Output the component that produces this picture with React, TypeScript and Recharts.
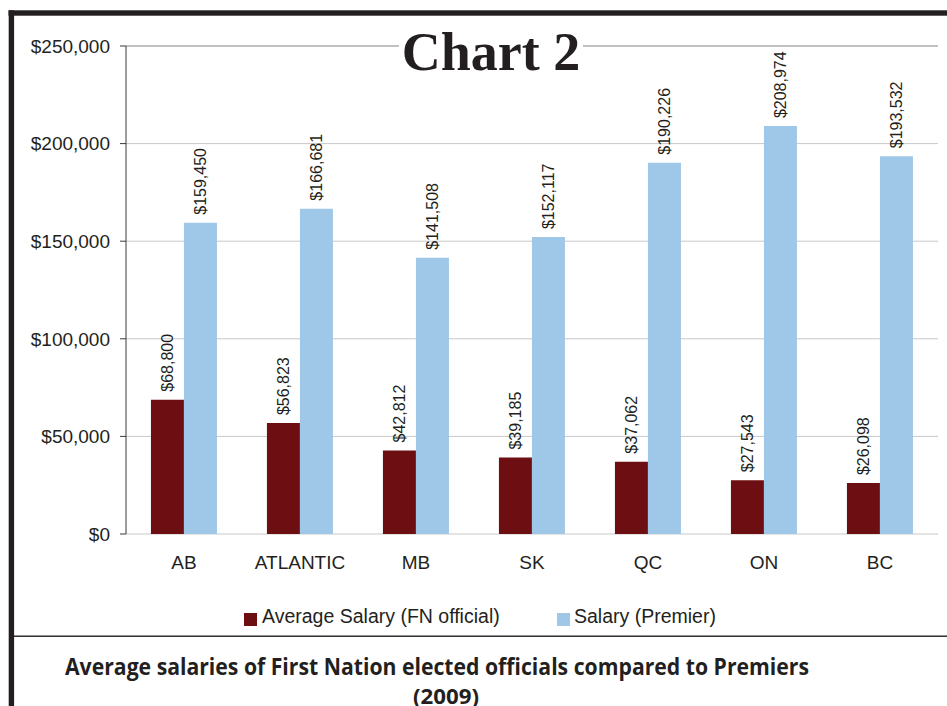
import React from "react";
import { BarChart, Bar, XAxis, YAxis, CartesianGrid, Legend, ReferenceLine } from "recharts";

const regions = ["AB", "ATLANTIC", "MB", "SK", "QC", "ON", "BC"];
const fnSalary = [68800, 56823, 42812, 39185, 37062, 27543, 26098];
const premierSalary = [159450, 166681, 141508, 152117, 190226, 208974, 193532];
const yTicks = [0, 50000, 100000, 150000, 200000, 250000];
const boundaryTicks = [0, 1, 2, 3, 4, 5, 6, 7];
const seriesNames = ["Average Salary (FN official)", "Salary (Premier)"];
const chartTitle = "Chart 2";
const captionLine1 = "Average salaries of First Nation elected officials compared to Premiers";
const captionLine2 = "(2009)";

const data = regions.map((r, i) => ({ region: r, fn: fnSalary[i], premier: premierSalary[i] }));

const RED = "#6d0f12";
const BLUE = "#9fc7e8";
const INK = "#231f20";
const SANS = "'Liberation Sans', Arial, sans-serif";

const money = (v: number) => "$" + Number(v).toLocaleString("en-US");

const renderLabel = (props: any) => {
  const { x, y, width, value } = props;
  const cx = x + width / 2 + 5.7;
  const cy = y - 8;
  return (
    <text
      x={cx}
      y={cy}
      transform={`rotate(-90 ${cx} ${cy})`}
      fontSize={16}
      fill={INK}
      fontFamily={SANS}
      textAnchor="start"
    >
      {money(value)}
    </text>
  );
};

const renderLegend = () => (
  <div style={{ position: "relative", width: 947, height: 24, fontFamily: SANS, fontSize: 19.5, color: INK }}>
    <div style={{ position: "absolute", left: 244, top: 4, width: 13, height: 13, background: RED }} />
    <div style={{ position: "absolute", left: 262, top: -4, whiteSpace: "nowrap" }}>{seriesNames[0]}</div>
    <div style={{ position: "absolute", left: 556.5, top: 4, width: 13, height: 13, background: BLUE }} />
    <div style={{ position: "absolute", left: 574, top: -4, whiteSpace: "nowrap" }}>{seriesNames[1]}</div>
  </div>
);

export default function App() {
  return (
    <div style={{ position: "absolute", left: 0, top: 0, width: 947, height: 706, background: "#fff", overflow: "hidden" }}>
      <BarChart
        width={947}
        height={706}
        data={data}
        margin={{ top: 46, right: 9, left: 0, bottom: 142 }}
        barGap={0}
        barCategoryGap="21.5%"
      >
        <XAxis
          xAxisId="bounds"
          type="number"
          domain={[0, 7]}
          ticks={boundaryTicks}
          allowDataOverflow
          height={0}
          tickSize={6}
          tickFormatter={() => ""}
          axisLine={{ stroke: INK, strokeWidth: 1.3 }}
          tickLine={{ stroke: INK }}
        />
        <XAxis
          dataKey="region"
          height={30}
          tickLine={false}
          axisLine={false}
          tickSize={6}
          tickMargin={16}
          tick={{ fontSize: 19, fill: INK, fontFamily: SANS }}
          interval={0}
        />
        <YAxis
          width={126}
          domain={[0, 250000]}
          ticks={yTicks}
          tickFormatter={money}
          tickSize={6}
          tickMargin={10}
          tick={{ fontSize: 19, fill: INK, fontFamily: SANS }}
          axisLine={{ stroke: "#3a3a3a" }}
          tickLine={{ stroke: "#3a3a3a" }}
        />
        <YAxis
          yAxisId="right"
          orientation="right"
          width={0}
          domain={[0, 250000]}
          tick={false}
          tickLine={false}
          axisLine={{ stroke: "#a0a0a0" }}
        />
        <CartesianGrid vertical={false} stroke="#c8c8c8" />
        <ReferenceLine y={250000} stroke="#a0a0a0" />
        <Bar dataKey="fn" name={seriesNames[0]} fill={RED} isAnimationActive={false} label={renderLabel} />
        <Bar dataKey="premier" name={seriesNames[1]} fill={BLUE} isAnimationActive={false} label={renderLabel} />
        <Legend
          layout="horizontal"
          verticalAlign="middle"
          align="center"
          content={renderLegend}
          wrapperStyle={{ position: "absolute", top: 609, left: 0, width: 947 }}
        />
      </BarChart>
      <svg
        width={947}
        height={706}
        style={{ position: "absolute", left: 0, top: 0, pointerEvents: "none" }}
      >
        <rect x={8.5} y={10.3} width={939} height={5.4} fill={INK} />
        <rect x={8.7} y={10.3} width={5.4} height={696} fill={INK} />
        <rect x={13} y={635.5} width={934} height={1.4} fill={INK} />
        <rect x={399} y={30} width={184} height={45} fill="#fff" />
        <text
          x={491}
          y={70}
          textAnchor="middle"
          fontSize={54}
          fontWeight="bold"
          fill={INK}
          fontFamily="'Liberation Serif', 'Times New Roman', serif"
        >
          {chartTitle}
        </text>
        <text
          x={65}
          y={675}
          fontSize={23}
          fontWeight="bold"
          fill={INK}
          fontFamily="'Open Sans', sans-serif"
          textLength={744}
          lengthAdjust="spacingAndGlyphs"
        >
          {captionLine1}
        </text>
        <text
          x={413}
          y={704}
          fontSize={21}
          fontWeight="bold"
          fill={INK}
          fontFamily="'Open Sans', sans-serif"
          textLength={66}
          lengthAdjust="spacingAndGlyphs"
        >
          {captionLine2}
        </text>
      </svg>
    </div>
  );
}
